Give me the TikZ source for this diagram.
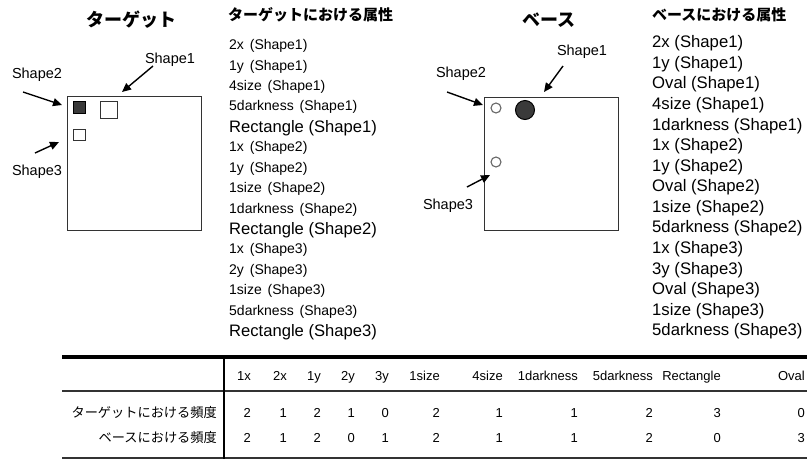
\documentclass[tikz,border=0pt]{standalone}
\usepackage{fontspec}
\setmainfont{Liberation Sans}
\newfontfamily\jp{Noto Sans CJK JP}
\usetikzlibrary{arrows.meta}
\definecolor{edge}{HTML}{333333}
\definecolor{darkfill}{HTML}{3A3A3A}
\tikzset{
  lbl/.style={font=\fontsize{14.5}{15}\selectfont, inner sep=0pt},
  listitem/.style={anchor=west, inner sep=0pt},
  ttl/.style={font=\jp\bfseries\fontsize{18}{18}\selectfont, inner sep=0pt},
  subttl/.style={font=\jp\bfseries\fontsize{15}{15}\selectfont, inner sep=0pt, anchor=west},
  pointer/.style={line width=1.4pt, -{Triangle[length=9pt,width=8pt]}},
  frame/.style={draw=edge, line width=1.3pt, fill=white},
  cell/.style={font=\fontsize{13}{13}\selectfont, anchor=base east, inner sep=0pt},
  rowlbl/.style={font=\jp\fontsize{13.2}{13}\selectfont, anchor=base east, inner sep=0pt},
}
\newcommand{\gap}{\hspace{0.42em}}
\begin{document}
\begin{tikzpicture}[x=1pt,y=-1pt]
\path[use as bounding box, fill=white] (0,0) rectangle (807,459);

% ---------- Target ----------
\node[ttl] (ttitle) at (131,20) {ターゲット};
\node[frame, minimum width=134pt, minimum height=134pt, anchor=north west, inner sep=0pt] (tbox) at (67,96) {};
\node[draw=black, line width=1.2pt, fill=darkfill, minimum size=12pt, inner sep=0pt, anchor=north west] (ts2) at (72.5,100.5) {};
\node[draw=edge, line width=1.3pt, fill=white, minimum size=17pt, inner sep=0pt, anchor=north west] (ts1) at (99.5,100.5) {};
\node[draw=edge, line width=1.3pt, fill=white, minimum width=12pt, minimum height=11pt, inner sep=0pt, anchor=north west] (ts3) at (72.5,128.5) {};

\node[lbl] (tl1) at (170,60) {Shape1};
\node[lbl] (tl2) at (37,75) {Shape2};
\node[lbl] (tl3) at (37,172) {Shape3};
\coordinate (ta1s) at (153,66);  \coordinate (ta1e) at (122,92);
\coordinate (ta2s) at (23,92);   \coordinate (ta2e) at (62,105);
\coordinate (ta3s) at (35,153);  \coordinate (ta3e) at (59,142);
\draw[pointer] (ta1s) -- (ta1e);
\draw[pointer] (ta2s) -- (ta2e);
\draw[pointer] (ta3s) -- (ta3e);

\node[subttl] (tattr) at (228,15) {ターゲットにおける属性};
\foreach \s/\t [count=\i] in {
  14/2x\gap(Shape1), 14/1y\gap(Shape1), 14/4size\gap(Shape1), 14/5darkness\gap(Shape1), 16.6/Rectangle (Shape1),
  14/1x\gap(Shape2), 14/1y\gap(Shape2), 14/1size\gap(Shape2), 14/1darkness\gap(Shape2), 16.6/Rectangle (Shape2),
  14/1x\gap(Shape3), 14/2y\gap(Shape3), 14/1size\gap(Shape3), 14/5darkness\gap(Shape3), 16.6/Rectangle (Shape3)}
  \node[listitem, font=\fontsize{\s}{\s}\selectfont] (tlist\i) at (229,{46+(\i-1)*20.43}) {\t};

% ---------- Base ----------
\node[ttl] (btitle) at (549,20) {ベース};
\node[frame, minimum width=134pt, minimum height=133pt, anchor=north west, inner sep=0pt] (bbox) at (484,97) {};
\node[circle, draw=gray!80!black, line width=1.1pt, fill=white, minimum size=10pt, inner sep=0pt] (bs2) at (496,108) {};
\node[circle, draw=black, line width=1pt, fill=darkfill, minimum size=19pt, inner sep=0pt] (bs1) at (525,110) {};
\node[circle, draw=gray!80!black, line width=1.1pt, fill=white, minimum size=10pt, inner sep=0pt] (bs3) at (496,162) {};

\node[lbl] (bl1) at (582,52) {Shape1};
\node[lbl] (bl2) at (461,74) {Shape2};
\node[lbl] (bl3) at (448,206) {Shape3};
\coordinate (ba1s) at (563,66);  \coordinate (ba1e) at (544,92);
\coordinate (ba2s) at (447,92);  \coordinate (ba2e) at (483,105);
\coordinate (ba3s) at (467,187); \coordinate (ba3e) at (490,175);
\draw[pointer] (ba1s) -- (ba1e);
\draw[pointer] (ba2s) -- (ba2e);
\draw[pointer] (ba3s) -- (ba3e);

\node[subttl] (battr) at (652,15) {ベースにおける属性};
\foreach \t [count=\i] in {
  2x (Shape1), 1y (Shape1), Oval (Shape1), 4size (Shape1), 1darkness (Shape1),
  1x (Shape2), 1y (Shape2), Oval (Shape2), 1size (Shape2), 5darkness (Shape2),
  1x (Shape3), 3y (Shape3), Oval (Shape3), 1size (Shape3), 5darkness (Shape3)}
  \node[listitem, font=\fontsize{16.7}{17}\selectfont] (blist\i) at (652,{43.5+(\i-1)*20.57}) {\t};

% ---------- Table ----------
\coordinate (tabTL) at (62,357);   \coordinate (tabTR) at (807,357);
\coordinate (tabML) at (62,391);   \coordinate (tabMR) at (807,391);
\coordinate (tabBL) at (62,457.5); \coordinate (tabBR) at (807,457.5);
\coordinate (tabVT) at (224,357);  \coordinate (tabVB) at (224,458.5);
\draw[line width=3.8pt, black] (tabTL) -- (tabTR);
\draw[line width=2pt, black!80] (tabML) -- (tabMR);
\draw[line width=2pt, black!80] (tabBL) -- (tabBR);
\draw[line width=2.2pt, black] (tabVT) -- (tabVB);

\node[rowlbl] (r1) at (217,417) {ターゲットにおける頻度};
\node[rowlbl] (r2) at (217,442) {ベースにおける頻度};

\foreach \x/\h/\a/\b [count=\i] in {
  251/1x/2/2, 287/2x/1/1, 321/1y/2/2, 355/2y/1/0, 389/3y/0/1, 440/1size/2/2,
  503/4size/1/1, 578/1darkness/1/1, 653/5darkness/2/2, 721/Rectangle/3/0, 805/Oval/0/3}
{
  \node[cell] (h\i) at (\x,380) {\h};
  \node[cell] (a\i) at (\x,417) {\a};
  \node[cell] (b\i) at (\x,442) {\b};
}
\end{tikzpicture}
\end{document}
